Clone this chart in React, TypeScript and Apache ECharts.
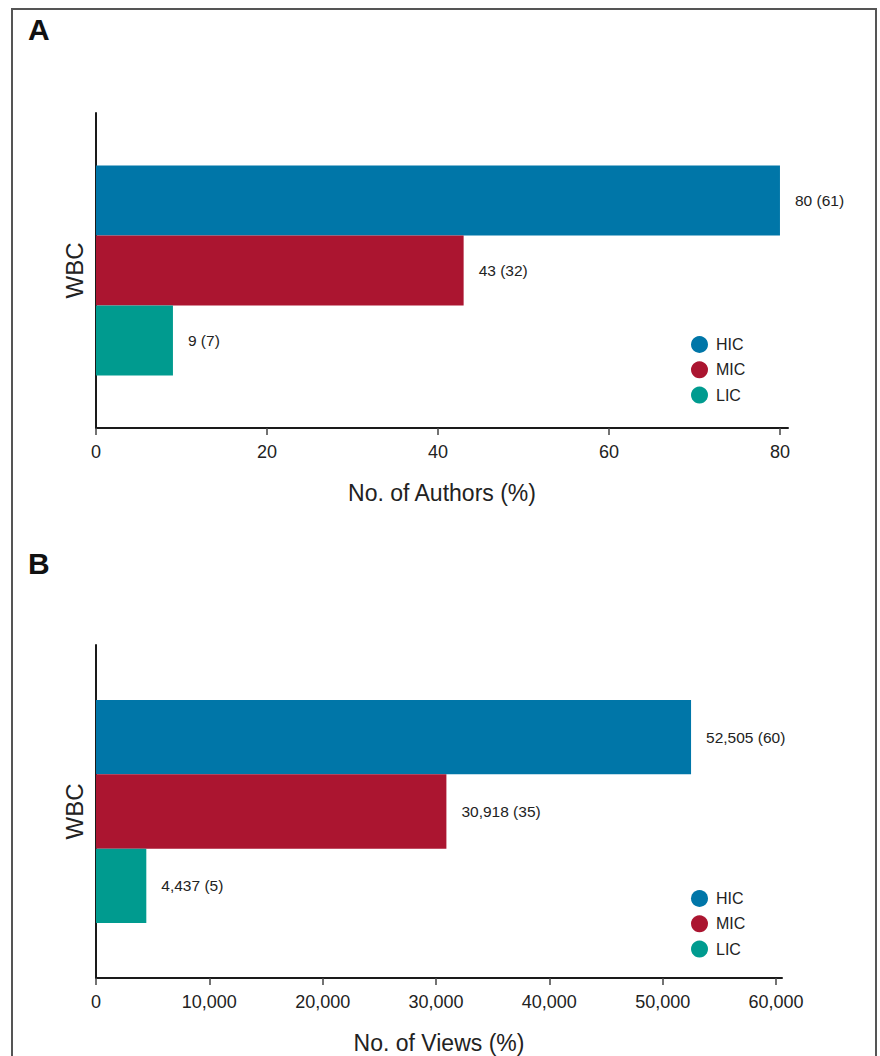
import React, { useEffect, useRef } from "react";
import * as echarts from "echarts";

// ---- data ----
const categories = ["WBC"];
const seriesNames = ["HIC", "MIC", "LIC"];
const seriesColors = ["#0076a8", "#ab1530", "#009b8f"];
const authorCounts = [80, 43, 9];
const authorPercents = [61, 32, 7];
const viewCounts = [52505, 30918, 4437];
const viewPercents = [60, 35, 5];
const authorTicks = [0, 20, 40, 60, 80];
const viewTicks = [0, 10000, 20000, 30000, 40000, 50000, 60000];

const FONT = "'Liberation Sans', Arial, Helvetica, sans-serif";
const TEXT = "#222222";
const AXIS = "#1a1a1a";

const fmt = (v: number) => v.toLocaleString("en-US");

export default function App() {
  const ref = useRef<HTMLDivElement>(null);
  useEffect(() => {
    document.body.style.margin = "0";
    const chart = echarts.init(ref.current!, null, { renderer: "svg" });

    const xAxisCommon = (name: string, max: number, ticks: number[], gridIndex: number) => ({
      type: "value",
      gridIndex,
      min: 0,
      max,
      name,
      nameLocation: "middle",
      nameGap: 53,
      nameTextStyle: { fontSize: 23, color: TEXT, fontFamily: FONT },
      axisLine: { show: true, lineStyle: { color: AXIS, width: 2 } },
      axisTick: { show: true, length: 7, customValues: ticks, lineStyle: { color: "#444", width: 1.5 } },
      axisLabel: {
        customValues: ticks,
        margin: 15,
        fontSize: 18,
        color: TEXT,
        fontFamily: FONT,
        formatter: (v: number) => fmt(v),
      },
      splitLine: { show: false },
    });

    const yAxisCommon = (gridIndex: number) => ({
      type: "category",
      gridIndex,
      data: categories,
      inverse: true,
      axisLine: { show: true, lineStyle: { color: AXIS, width: 2 } },
      axisTick: { show: false },
      axisLabel: { rotate: 90, margin: 10, fontSize: 24, color: TEXT, fontFamily: FONT },
    });

    const makeSeries = (counts: number[], pcts: number[], idx: number, barWidth: number) =>
      seriesNames.map((n, i) => ({
        type: "bar",
        name: n,
        xAxisIndex: idx,
        yAxisIndex: idx,
        data: [counts[i]],
        barWidth,
        barGap: "0%",
        itemStyle: { color: seriesColors[i] },
        label: {
          show: true,
          position: "right",
          distance: 15,
          fontSize: 15.5,
          color: TEXT,
          fontFamily: FONT,
          formatter: () => `${fmt(counts[i])} (${pcts[i]})`,
        },
      }));

    const legendCommon = (top: number) => ({
      data: seriesNames,
      orient: "vertical",
      left: 691,
      top,
      icon: "circle",
      itemWidth: 23,
      itemHeight: 17,
      itemGap: 8.3,
      padding: 0,
      textStyle: { fontSize: 16, color: TEXT, fontFamily: FONT, lineHeight: 17 },
    });

    chart.setOption({
      animation: false,
      backgroundColor: "#ffffff",
      grid: [
        { left: 96, top: 113, width: 692, height: 315 },
        { left: 96, top: 645, width: 686, height: 333 },
      ],
      xAxis: [
        xAxisCommon("No. of Authors (%)", 80.94, authorTicks, 0),
        xAxisCommon("No. of Views (%)", 60530, viewTicks, 1),
      ],
      yAxis: [yAxisCommon(0), yAxisCommon(1)],
      legend: [legendCommon(336), legendCommon(890)],
      series: [
        ...makeSeries(authorCounts, authorPercents, 0, 70),
        ...makeSeries(viewCounts, viewPercents, 1, 74.3),
      ],
      graphic: [
        {
          type: "rect",
          shape: { x: 12, y: 9, width: 864, height: 1100 },
          style: { fill: "none", stroke: "#555555", lineWidth: 2 },
          silent: true,
        },
        {
          type: "text",
          x: 28,
          y: 29.5,
          style: { text: "A", fontSize: 30, fontWeight: "bold", fill: "#111", fontFamily: FONT, verticalAlign: "middle" },
        },
        {
          type: "text",
          x: 28,
          y: 563,
          style: { text: "B", fontSize: 30, fontWeight: "bold", fill: "#111", fontFamily: FONT, verticalAlign: "middle" },
        },
      ],
    });
    return () => chart.dispose();
  }, []);
  return <div ref={ref} style={{ width: 880, height: 1056 }} />;
}
